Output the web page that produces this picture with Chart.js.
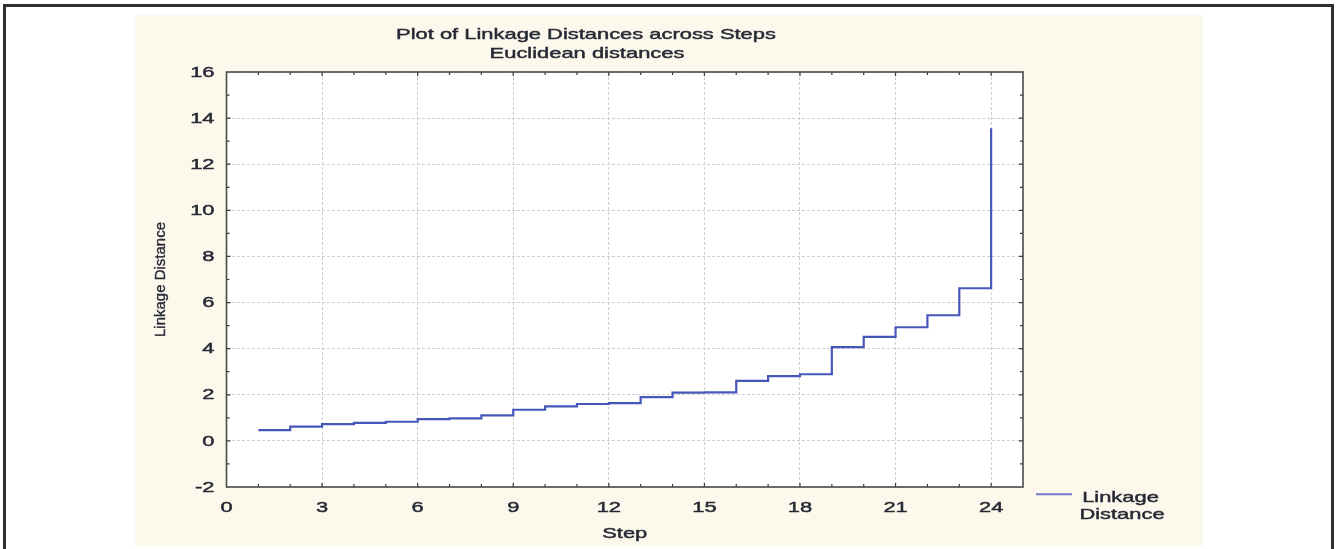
<!DOCTYPE html>
<html>
<head>
<meta charset="utf-8">
<script src="https://cdn.jsdelivr.net/npm/chart.js@4.4.1/dist/chart.umd.min.js"></script>
<style>
  html, body { margin: 0; padding: 0; background: #fff; }
  body { width: 1337px; height: 549px; position: relative; overflow: hidden; }
  #frame {
    position: absolute; left: 3px; top: 4px; width: 1325px; height: 600px;
    border: 3px solid #2e2e2e;
  }
  #chart1 { position: absolute; left: 135px; top: 15px; background: #fcf8ec; }
</style>
</head>
<body>
<div id="frame"></div>
<canvas id="chart1" width="1068" height="531"></canvas>
<script>
// dados
const steps = [1, 2, 3, 4, 5, 6, 7, 8, 9, 10, 11, 12, 13, 14, 15, 16, 17, 18, 19, 20, 21, 22, 23, 24];
const linkageDistance = [0.47, 0.62, 0.73, 0.78, 0.83, 0.94, 0.98, 1.11, 1.35, 1.50, 1.60, 1.64,
                         1.90, 2.09, 2.10, 2.60, 2.81, 2.89, 4.07, 4.51, 4.93, 5.45, 6.62, 13.56];
const xTickLabels = [0, 3, 6, 9, 12, 15, 18, 21, 24];
const yTickLabels = [-2, 0, 2, 4, 6, 8, 10, 12, 14, 16];

const STRETCH = 1.46;
const textColor = '#262a35';
const lineColor = '#4657b9';

// texto esticado na horizontal, com um leve contorno para ficar mais pesado
function stretchText(ctx, text, x, y, align) {
    ctx.save();
    ctx.translate(x, y);
    ctx.scale(STRETCH, 1);
    ctx.textAlign = align;
    ctx.fillText(text, 0, 0);
    ctx.strokeStyle = ctx.fillStyle;
    ctx.lineWidth = 0.45;
    ctx.strokeText(text, 0, 0);
    ctx.restore();
}

// fundo branco da area do grafico
const plotBackground = {
    id: 'plotBackground',
    beforeDraw(chart) {
        const { ctx, chartArea: a } = chart;
        ctx.save();
        ctx.fillStyle = '#ffffff';
        ctx.fillRect(a.left, a.top, a.right - a.left, a.bottom - a.top);
        ctx.restore();
    }
};

// moldura, marcas internas, textos e legenda
const decorations = {
    id: 'decorations',
    afterDraw(chart) {
        const { ctx, chartArea: a } = chart;
        const xs = chart.scales.x, ys = chart.scales.y;
        ctx.save();

        // marcas internas
        ctx.strokeStyle = '#3a3a3a';
        ctx.lineWidth = 1.2;
        ctx.beginPath();
        for (let v = 1; v < 25; v++) {
            const px = xs.getPixelForValue(v);
            const len = v % 3 === 0 ? 4 : 3;
            ctx.moveTo(px, a.bottom); ctx.lineTo(px, a.bottom - len);
            ctx.moveTo(px, a.top); ctx.lineTo(px, a.top + len);
        }
        for (let v = -1; v < 16; v++) {
            const py = ys.getPixelForValue(v);
            const len = v % 2 === 0 ? 4 : 3;
            ctx.moveTo(a.left, py); ctx.lineTo(a.left + len, py);
            ctx.moveTo(a.right, py); ctx.lineTo(a.right - len, py);
        }
        ctx.stroke();

        // moldura
        ctx.strokeStyle = '#4a4a4a';
        ctx.lineWidth = 1.6;
        ctx.strokeRect(a.left, a.top, a.right - a.left, a.bottom - a.top);

        ctx.fillStyle = textColor;
        ctx.font = '15px "Liberation Sans", Arial, sans-serif';

        // titulo
        ctx.textBaseline = 'alphabetic';
        stretchText(ctx, 'Plot of Linkage Distances across Steps', 451, 24, 'center');
        stretchText(ctx, 'Euclidean distances', 452, 43, 'center');

        // rotulos eixo y
        ctx.textBaseline = 'middle';
        yTickLabels.forEach(v => {
            stretchText(ctx, String(v), a.left - 12, ys.getPixelForValue(v) + 0.5, 'right');
        });

        // rotulos eixo x
        ctx.textBaseline = 'alphabetic';
        xTickLabels.forEach(v => {
            stretchText(ctx, String(v), xs.getPixelForValue(v), a.bottom + 24.5, 'center');
        });
        stretchText(ctx, 'Step', (a.left + a.right) / 2, a.bottom + 51, 'center');

        // titulo eixo y
        ctx.save();
        ctx.translate(a.left - 66, (a.top + a.bottom) / 2);
        ctx.rotate(-Math.PI / 2);
        ctx.textAlign = 'center';
        ctx.textBaseline = 'middle';
        ctx.fillText('Linkage Distance', 0, 0);
        ctx.strokeStyle = textColor;
        ctx.lineWidth = 0.35;
        ctx.strokeText('Linkage Distance', 0, 0);
        ctx.restore();

        // legenda
        const ds = chart.data.datasets[0];
        ctx.strokeStyle = '#7379cc';
        ctx.lineWidth = 2;
        ctx.beginPath();
        ctx.moveTo(a.right + 13, a.bottom + 7.3);
        ctx.lineTo(a.right + 49, a.bottom + 7.3);
        ctx.stroke();
        const parts = ds.label.split(' ');
        stretchText(ctx, parts[0], a.right + 97.5, a.bottom + 14.7, 'center');
        stretchText(ctx, parts[1], a.right + 99, a.bottom + 32, 'center');

        ctx.restore();
    }
};

const data1 = {
    datasets: [{
        label: 'Linkage Distance',
        data: steps.map((s, i) => ({ x: s, y: linkageDistance[i] })),
        borderColor: lineColor,
        borderWidth: 2.2,
        pointRadius: 0,
        stepped: 'before',
        fill: false
    }]
};

const config1 = {
    type: 'line',
    data: data1,
    options: {
        responsive: false,
        animation: false,
        devicePixelRatio: 1,
        layout: { padding: { left: 91.5, right: 180, top: 57, bottom: 59 } },
        plugins: { legend: { display: false }, title: { display: false }, tooltip: { enabled: false } },
        scales: {
            x: {
                type: 'linear',
                min: 0,
                max: 25,
                ticks: { display: false, stepSize: 1 },
                grid: {
                    drawTicks: false,
                    lineWidth: 1,
                    color: c => (c.tick && c.tick.value % 3 === 0 ? '#cfcfcf' : 'rgba(0,0,0,0)')
                },
                border: { display: false, dash: [3, 2] }
            },
            y: {
                type: 'linear',
                min: -2,
                max: 16,
                ticks: { display: false, stepSize: 1 },
                grid: {
                    drawTicks: false,
                    lineWidth: 1,
                    color: c => (c.tick && c.tick.value % 2 === 0 ? '#cfcfcf' : 'rgba(0,0,0,0)')
                },
                border: { display: false, dash: [3, 2] }
            }
        }
    },
    plugins: [plotBackground, decorations]
};

const chart1 = new Chart(document.getElementById('chart1'), config1);
</script>
</body>
</html>
